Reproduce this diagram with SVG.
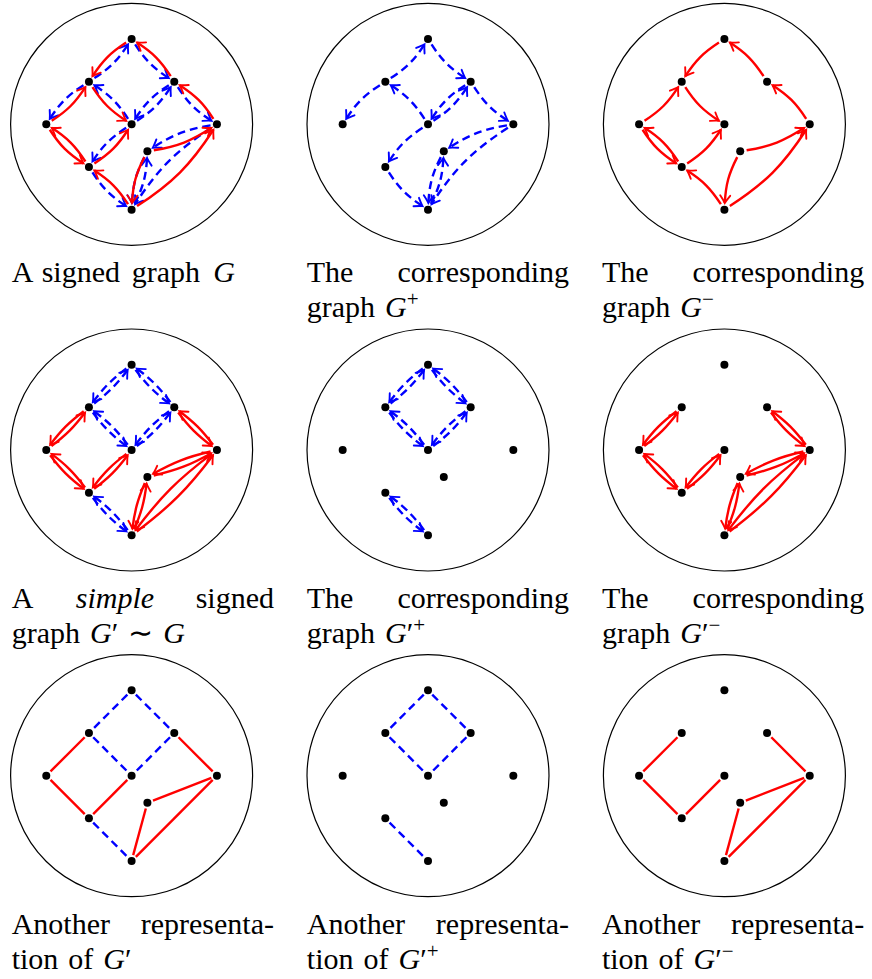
<svg xmlns="http://www.w3.org/2000/svg" width="872" height="979" viewBox="0 0 872 979">
<defs>
<marker id="mr" markerUnits="userSpaceOnUse" orient="auto" overflow="visible"><path d="M-7.5,-5Q-2.5,-1.3 0,0Q-2.5,1.3-7.5,5" fill="none" stroke="#f00" stroke-width="1.9" stroke-linecap="round"/></marker>
<marker id="mb" markerUnits="userSpaceOnUse" orient="auto" overflow="visible"><path d="M-7.5,-5Q-2.5,-1.3 0,0Q-2.5,1.3-7.5,5" fill="none" stroke="#00f" stroke-width="1.9" stroke-linecap="round"/></marker>
<circle id="ring" r="121" fill="none" stroke="#000" stroke-width="1.2"/>
<path id="a" d="M6.36,1.35C24.6,5.23 35.74,5.23 53.98,1.35"/>
<path id="b" d="M6.36,1.35C30.05,6.39 44.54,6.39 68.23,1.35"/>
<path id="c" d="M6.36,1.35C47.7,10.14 72.98,10.14 114.32,1.35"/>
<path id="p" d="M6.44,0.91C24.84,3.49 35.5,3.49 53.9,0.91"/>
<path id="q" d="M6.44,0.91C30.36,4.27 44.23,4.27 68.15,0.91"/>
<path id="r" d="M6.44,0.91C48.23,6.78 72.45,6.78 114.24,0.91"/>
<path id="s" d="M6,0H54.34"/>
<path id="t" d="M6,0H68.59"/>
<path id="u" d="M6,0H114.68"/>
<g id="nd">
<g id="nT"><circle cy="-85.33" r="4"/></g>
<g id="nUL"><circle cx="-42.67" cy="-42.67" r="4"/></g>
<g id="nUR"><circle cx="42.67" cy="-42.67" r="4"/></g>
<g id="nL"><circle cx="-85.33" r="4"/></g>
<g id="nC"><circle r="4"/></g>
<g id="nR"><circle cx="85.33" r="4"/></g>
<g id="nI"><circle cx="15.8" cy="27" r="4"/></g>
<g id="nLL"><circle cx="-42.67" cy="42.67" r="4"/></g>
<g id="nB"><circle cy="85.33" r="4"/></g>
</g>
<g id="Bp" fill="none" stroke="#00f" stroke-width="2.4" stroke-dasharray="8 5" marker-end="url(#mb)">
<use href="#a" transform="translate(-42.67,-42.67)rotate(-45)"/>
<use href="#a" transform="translate(0,-85.33)rotate(45)"/>
<use href="#a" transform="translate(-42.67,-42.67)rotate(135)"/>
<use href="#a" transform="rotate(-135)"/>
<use href="#a" transform="rotate(-45)"/>
<use href="#a" transform="translate(42.67,-42.67)rotate(135)"/>
<use href="#a" transform="translate(42.67,-42.67)rotate(45)"/>
<use href="#a" transform="rotate(135)"/>
<use href="#a" transform="translate(-42.67,42.67)rotate(45)"/>
<use href="#b" transform="translate(85.33,0)rotate(158.78)"/>
<use href="#c" transform="translate(85.33,0)rotate(135)"/>
<use href="#a" transform="translate(0,85.33)rotate(-74.84)"/>
<use href="#a" transform="translate(15.8,27)rotate(105.16)"/>
</g>
<g id="Rm" fill="none" stroke="#f00" stroke-width="2.4" marker-end="url(#mr)">
<use href="#a" transform="translate(0,-85.33)rotate(135)"/>
<use href="#a" transform="translate(42.67,-42.67)rotate(-135)"/>
<use href="#a" transform="translate(-85.33,0)rotate(-45)"/>
<use href="#a" transform="translate(-42.67,-42.67)rotate(45)"/>
<use href="#a" transform="translate(-85.33,0)rotate(45)"/>
<use href="#a" transform="translate(-42.67,42.67)rotate(-135)"/>
<use href="#a" transform="translate(-42.67,42.67)rotate(-45)"/>
<use href="#a" transform="translate(0,85.33)rotate(-135)"/>
<use href="#a" transform="translate(85.33,0)rotate(-135)"/>
<use href="#b" transform="translate(15.8,27)rotate(-21.22)"/>
<use href="#c" transform="translate(0,85.33)rotate(-45)"/>
<use href="#a" transform="translate(15.8,27)rotate(105.16)"/>
</g>
<g id="Pb" fill="none" stroke="#00f" stroke-width="2.4" stroke-dasharray="8 5" marker-end="url(#mb)">
<use href="#p" transform="translate(0,-85.33)rotate(135)"/>
<use href="#p" transform="translate(-42.67,-42.67)rotate(-45)"/>
<use href="#p" transform="translate(0,-85.33)rotate(45)"/>
<use href="#p" transform="translate(42.67,-42.67)rotate(-135)"/>
<use href="#p" transform="translate(-42.67,-42.67)rotate(45)"/>
<use href="#p" transform="rotate(-135)"/>
<use href="#p" transform="translate(42.67,-42.67)rotate(135)"/>
<use href="#p" transform="rotate(-45)"/>
<use href="#p" transform="translate(-42.67,42.67)rotate(45)"/>
<use href="#p" transform="translate(0,85.33)rotate(-135)"/>
</g>
<g id="Pr" fill="none" stroke="#f00" stroke-width="2.4" marker-end="url(#mr)">
<use href="#p" transform="translate(-42.67,-42.67)rotate(135)"/>
<use href="#p" transform="translate(-85.33,0)rotate(-45)"/>
<use href="#p" transform="translate(-85.33,0)rotate(45)"/>
<use href="#p" transform="translate(-42.67,42.67)rotate(-135)"/>
<use href="#p" transform="translate(-42.67,42.67)rotate(-45)"/>
<use href="#p" transform="rotate(135)"/>
<use href="#p" transform="translate(42.67,-42.67)rotate(45)"/>
<use href="#p" transform="translate(85.33,0)rotate(-135)"/>
<use href="#q" transform="translate(85.33,0)rotate(158.78)"/>
<use href="#q" transform="translate(15.8,27)rotate(-21.22)"/>
<use href="#r" transform="translate(85.33,0)rotate(135)"/>
<use href="#r" transform="translate(0,85.33)rotate(-45)"/>
<use href="#p" transform="translate(15.8,27)rotate(105.16)"/>
<use href="#p" transform="translate(0,85.33)rotate(-74.84)"/>
</g>
<g id="Sb" fill="none" stroke="#00f" stroke-width="2.4" stroke-dasharray="8 5">
<use href="#s" transform="translate(0,-85.33)rotate(135)"/>
<use href="#s" transform="translate(0,-85.33)rotate(45)"/>
<use href="#s" transform="translate(-42.67,-42.67)rotate(45)"/>
<use href="#s" transform="translate(42.67,-42.67)rotate(135)"/>
<use href="#s" transform="translate(-42.67,42.67)rotate(45)"/>
</g>
<g id="Sr" fill="none" stroke="#f00" stroke-width="2.4">
<use href="#s" transform="translate(-42.67,-42.67)rotate(135)"/>
<use href="#s" transform="translate(-85.33,0)rotate(45)"/>
<use href="#s" transform="translate(-42.67,42.67)rotate(-45)"/>
<use href="#s" transform="translate(42.67,-42.67)rotate(45)"/>
<use href="#t" transform="translate(85.33,0)rotate(158.78)"/>
<use href="#u" transform="translate(85.33,0)rotate(135)"/>
<use href="#s" transform="translate(15.8,27)rotate(105.16)"/>
</g>
</defs>
<g id="connectors">
<g transform="translate(131.6,124.3)"><use href="#Bp"/><use href="#Rm"/></g>
<g transform="translate(428,124.3)"><use href="#Bp"/></g>
<g transform="translate(724.4,124.3)"><use href="#Rm"/></g>
<g transform="translate(131.6,450)"><use href="#Pb"/><use href="#Pr"/></g>
<g transform="translate(428,450)"><use href="#Pb"/></g>
<g transform="translate(724.4,450)"><use href="#Pr"/></g>
<g transform="translate(131.6,775.7)"><use href="#Sb"/><use href="#Sr"/></g>
<g transform="translate(428,775.7)"><use href="#Sb"/></g>
<g transform="translate(724.4,775.7)"><use href="#Sr"/></g>
</g>
<g id="p1" transform="translate(131.6,124.3)"><use href="#ring"/><use href="#nd"/></g>
<g id="p2" transform="translate(428,124.3)"><use href="#ring"/><use href="#nd"/></g>
<g id="p3" transform="translate(724.4,124.3)"><use href="#ring"/><use href="#nd"/></g>
<g id="p4" transform="translate(131.6,450)"><use href="#ring"/><use href="#nd"/></g>
<g id="p5" transform="translate(428,450)"><use href="#ring"/><use href="#nd"/></g>
<g id="p6" transform="translate(724.4,450)"><use href="#ring"/><use href="#nd"/></g>
<g id="p7" transform="translate(131.6,775.7)"><use href="#ring"/><use href="#nd"/></g>
<g id="p8" transform="translate(428,775.7)"><use href="#ring"/><use href="#nd"/></g>
<g id="p9" transform="translate(724.4,775.7)"><use href="#ring"/><use href="#nd"/></g>
<text x="11.7" y="282.3" font-family="Liberation Serif, Times New Roman, serif" font-size="30">A</text>
<text x="41.7" y="282.3" font-family="Liberation Serif, Times New Roman, serif" font-size="30">signed</text>
<text x="131.7" y="282.3" font-family="Liberation Serif, Times New Roman, serif" font-size="30">graph</text>
<text x="213.3" y="282.3" font-family="Liberation Serif, Times New Roman, serif" font-size="30" font-style="italic">G</text>
<text x="306.8" y="282.3" font-family="Liberation Serif, Times New Roman, serif" font-size="30">The</text>
<text x="569.1" y="282.3" font-family="Liberation Serif, Times New Roman, serif" font-size="30" text-anchor="end">corresponding</text>
<text x="306.8" y="317.3" font-family="Liberation Serif, Times New Roman, serif" font-size="30" word-spacing="2.5">graph <tspan font-style="italic">G</tspan><tspan font-size="21" dy="-11">+</tspan></text>
<text x="601.9" y="282.3" font-family="Liberation Serif, Times New Roman, serif" font-size="30">The</text>
<text x="864.2" y="282.3" font-family="Liberation Serif, Times New Roman, serif" font-size="30" text-anchor="end">corresponding</text>
<text x="601.9" y="317.3" font-family="Liberation Serif, Times New Roman, serif" font-size="30" word-spacing="2.5">graph <tspan font-style="italic">G</tspan><tspan font-size="21" dy="-11">−</tspan></text>
<text x="11.7" y="608.3" font-family="Liberation Serif, Times New Roman, serif" font-size="30">A</text>
<text x="75.8" y="608.3" font-family="Liberation Serif, Times New Roman, serif" font-size="30" font-style="italic">simple</text>
<text x="274" y="608.3" font-family="Liberation Serif, Times New Roman, serif" font-size="30" text-anchor="end">signed</text>
<text x="11.7" y="643.3" font-family="Liberation Serif, Times New Roman, serif" font-size="30" word-spacing="2.5">graph <tspan font-style="italic">G</tspan>′ ∼ <tspan font-style="italic">G</tspan></text>
<text x="306.8" y="608.3" font-family="Liberation Serif, Times New Roman, serif" font-size="30">The</text>
<text x="569.1" y="608.3" font-family="Liberation Serif, Times New Roman, serif" font-size="30" text-anchor="end">corresponding</text>
<text x="306.8" y="643.3" font-family="Liberation Serif, Times New Roman, serif" font-size="30" word-spacing="2.5">graph <tspan font-style="italic">G</tspan>′<tspan font-size="21" dy="-11">+</tspan></text>
<text x="601.9" y="608.3" font-family="Liberation Serif, Times New Roman, serif" font-size="30">The</text>
<text x="864.2" y="608.3" font-family="Liberation Serif, Times New Roman, serif" font-size="30" text-anchor="end">corresponding</text>
<text x="601.9" y="643.3" font-family="Liberation Serif, Times New Roman, serif" font-size="30" word-spacing="2.5">graph <tspan font-style="italic">G</tspan>′<tspan font-size="21" dy="-11">−</tspan></text>
<text x="11.7" y="934.3" font-family="Liberation Serif, Times New Roman, serif" font-size="30">Another</text>
<text x="274" y="934.3" font-family="Liberation Serif, Times New Roman, serif" font-size="30" text-anchor="end">representa-</text>
<text x="11.7" y="969.3" font-family="Liberation Serif, Times New Roman, serif" font-size="30" word-spacing="2.5">tion of <tspan font-style="italic">G</tspan>′</text>
<text x="306.8" y="934.3" font-family="Liberation Serif, Times New Roman, serif" font-size="30">Another</text>
<text x="569.1" y="934.3" font-family="Liberation Serif, Times New Roman, serif" font-size="30" text-anchor="end">representa-</text>
<text x="306.8" y="969.3" font-family="Liberation Serif, Times New Roman, serif" font-size="30" word-spacing="2.5">tion of <tspan font-style="italic">G</tspan>′<tspan font-size="21" dy="-11">+</tspan></text>
<text x="601.9" y="934.3" font-family="Liberation Serif, Times New Roman, serif" font-size="30">Another</text>
<text x="864.2" y="934.3" font-family="Liberation Serif, Times New Roman, serif" font-size="30" text-anchor="end">representa-</text>
<text x="601.9" y="969.3" font-family="Liberation Serif, Times New Roman, serif" font-size="30" word-spacing="2.5">tion of <tspan font-style="italic">G</tspan>′<tspan font-size="21" dy="-11">−</tspan></text>
</svg>
